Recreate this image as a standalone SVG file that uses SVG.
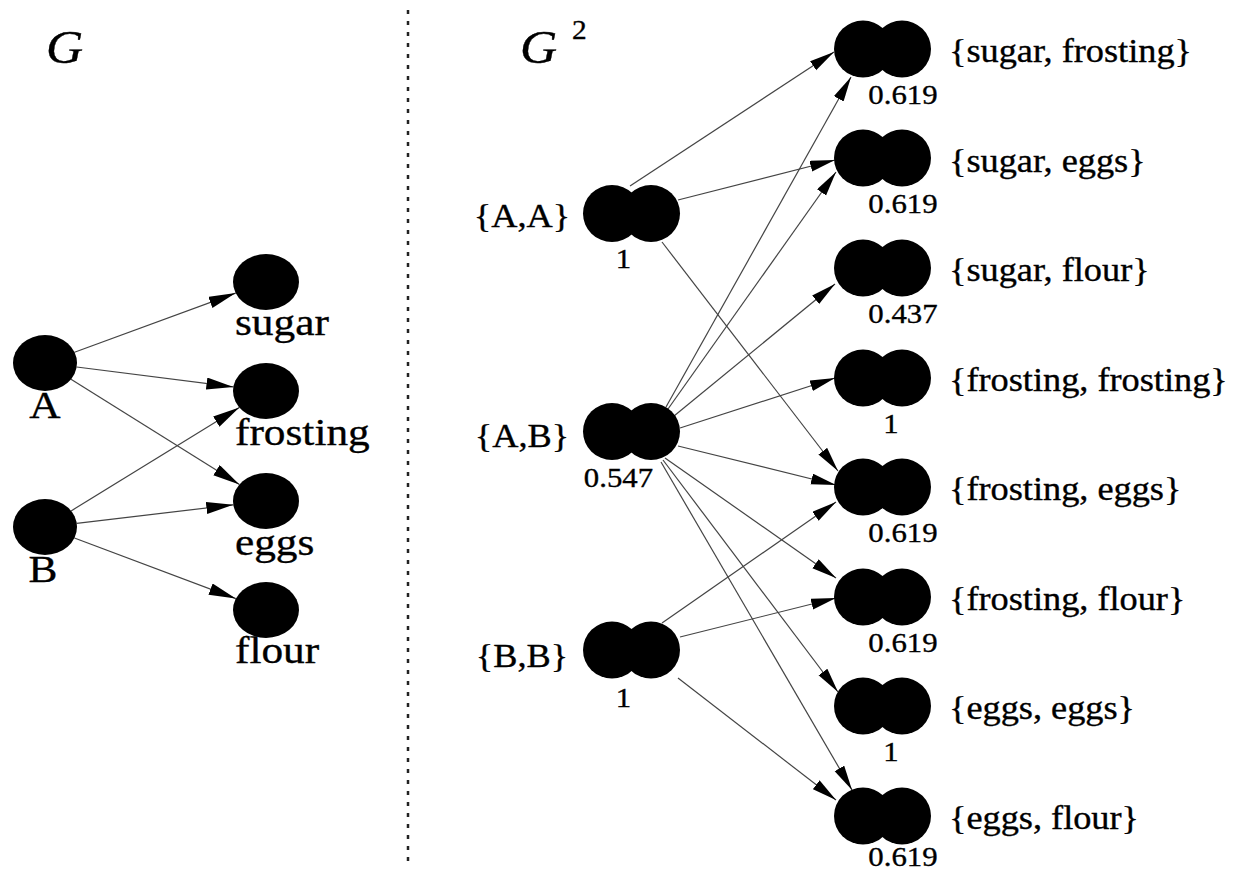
<svg xmlns="http://www.w3.org/2000/svg" width="1240" height="873" viewBox="0 0 1240 873">
  <style>
    text { font-family: "Liberation Serif", "Times New Roman", serif; fill: #000; stroke: #000; stroke-width: 0.35; }
    .title { font-size: 46px; font-style: italic; }
    .sup { font-size: 28px; }
    .lbl { font-size: 38px; }
    .pair { font-size: 33px; }
    .num { font-size: 28px; }
    .node { fill: #000; }
    .edge { stroke: #444; stroke-width: 1.2; fill: none; }
    .el { marker-end: url(#arrowL); }
    .er { marker-end: url(#arrowR); }
  </style>
  <defs>
    <marker id="arrowL" markerUnits="userSpaceOnUse" markerWidth="28" markerHeight="13" refX="27" refY="6" orient="auto">
      <path d="M0,0 L27,6 L0,12 z" fill="#000"/>
    </marker>
    <marker id="arrowR" markerUnits="userSpaceOnUse" markerWidth="26" markerHeight="12" refX="25" refY="5.5" orient="auto">
      <path d="M0,0 L25,5.5 L0,11 z" fill="#000"/>
    </marker>
    <g id="twin">
      <ellipse cx="-19.5" cy="0" rx="29" ry="28.5"/>
      <ellipse cx="19.5" cy="0" rx="29" ry="28.5"/>
    </g>
  </defs>

  <rect width="1240" height="873" fill="#fff"/>

  <!-- panel titles -->
  <text class="title" transform="translate(46 63) scale(1.12 1)">G</text>
  <text class="title" transform="translate(520 63) scale(1.12 1)">G</text>
  <text class="sup" transform="translate(572 39) scale(1.05 1)">2</text>

  <!-- separator between the two graphs -->
  <line x1="408" y1="10" x2="408" y2="866" stroke="#222" stroke-width="2.5" stroke-dasharray="4 7"/>

  <!-- connectors -->
  <g id="connectors">
    <!-- G -->
    <line class="edge el" x1="74.5" y1="352.2" x2="235.7" y2="293.1"/>
    <line class="edge el" x1="76.7" y1="367" x2="233.4" y2="386.9"/>
    <line class="edge el" x1="71" y1="379.3" x2="239.4" y2="484.4"/>
    <line class="edge el" x1="71.1" y1="510.9" x2="239.3" y2="407.4"/>
    <line class="edge el" x1="76.7" y1="523.3" x2="233.3" y2="504.8"/>
    <line class="edge el" x1="74.4" y1="538" x2="235.8" y2="598.6"/>
    <!-- G^2 from {A,A} -->
    <line class="edge er" x1="630" y1="186" x2="834" y2="52"/>
    <line class="edge er" x1="678" y1="200" x2="835" y2="160"/>
    <line class="edge er" x1="662" y1="242" x2="838" y2="471"/>
    <!-- from {A,B} -->
    <line class="edge er" x1="666" y1="407" x2="851" y2="77"/>
    <line class="edge er" x1="668" y1="409" x2="836" y2="172"/>
    <line class="edge er" x1="674" y1="416" x2="835" y2="284"/>
    <line class="edge er" x1="680" y1="428" x2="835" y2="378"/>
    <line class="edge er" x1="678" y1="446" x2="836" y2="485"/>
    <line class="edge er" x1="665" y1="458" x2="836" y2="578"/>
    <line class="edge er" x1="663" y1="460" x2="838" y2="692"/>
    <line class="edge er" x1="661" y1="462" x2="852" y2="790"/>
    <!-- from {B,B} -->
    <line class="edge er" x1="662" y1="623" x2="836" y2="502"/>
    <line class="edge er" x1="680" y1="637" x2="836" y2="598"/>
    <line class="edge er" x1="678" y1="678" x2="836" y2="800"/>
  </g>

  <!-- G nodes -->
  <g id="nA"><ellipse class="node" cx="45" cy="363" rx="32" ry="28"/><text class="lbl" text-anchor="middle" transform="translate(45 418) scale(1.14 1)">A</text></g>
  <g id="nB"><ellipse class="node" cx="45" cy="527" rx="32" ry="28"/><text class="lbl" text-anchor="middle" transform="translate(43 582) scale(1.14 1)">B</text></g>
  <g id="nSugar"><ellipse class="node" cx="266" cy="282" rx="33" ry="28"/><text class="lbl" transform="translate(235 335) scale(1.14 1)">sugar</text></g>
  <g id="nFrosting"><ellipse class="node" cx="266" cy="391" rx="33" ry="28"/><text class="lbl" transform="translate(235 445) scale(1.14 1)">frosting</text></g>
  <g id="nEggs"><ellipse class="node" cx="266" cy="501" rx="33" ry="28"/><text class="lbl" transform="translate(235 555) scale(1.14 1)">eggs</text></g>
  <g id="nFlour"><ellipse class="node" cx="266" cy="610" rx="33" ry="28"/><text class="lbl" transform="translate(235 663) scale(1.14 1)">flour</text></g>

  <!-- G^2 source pairs -->
  <g id="pAA"><use href="#twin" class="node" x="631.5" y="213.5"/>
    <text class="pair" text-anchor="middle" transform="translate(522 227) scale(1.1 1)">{A,A}</text>
    <text class="num" text-anchor="middle" transform="translate(623.5 268) scale(1.1 1)">1</text></g>
  <g id="pAB"><use href="#twin" class="node" x="631.5" y="431.5"/>
    <text class="pair" text-anchor="middle" transform="translate(522 447) scale(1.1 1)">{A,B}</text>
    <text class="num" text-anchor="middle" transform="translate(618.5 487) scale(1.1 1)">0.547</text></g>
  <g id="pBB"><use href="#twin" class="node" x="631.5" y="650"/>
    <text class="pair" text-anchor="middle" transform="translate(522 667) scale(1.1 1)">{B,B}</text>
    <text class="num" text-anchor="middle" transform="translate(623.5 707) scale(1.1 1)">1</text></g>

  <!-- G^2 target pairs -->
  <g id="pSF"><use href="#twin" class="node" x="882.5" y="49"/>
    <text class="pair" transform="translate(949 62) scale(1.1 1)">{sugar, frosting}</text>
    <text class="num" text-anchor="middle" transform="translate(903 104) scale(1.1 1)">0.619</text></g>
  <g id="pSE"><use href="#twin" class="node" x="882.5" y="158"/>
    <text class="pair" transform="translate(949 172) scale(1.1 1)">{sugar, eggs}</text>
    <text class="num" text-anchor="middle" transform="translate(903 213) scale(1.1 1)">0.619</text></g>
  <g id="pSFl"><use href="#twin" class="node" x="882.5" y="268"/>
    <text class="pair" transform="translate(949 281) scale(1.1 1)">{sugar, flour}</text>
    <text class="num" text-anchor="middle" transform="translate(903 323) scale(1.1 1)">0.437</text></g>
  <g id="pFF"><use href="#twin" class="node" x="882.5" y="378"/>
    <text class="pair" transform="translate(949 391) scale(1.1 1)">{frosting, frosting}</text>
    <text class="num" text-anchor="middle" transform="translate(891 433) scale(1.1 1)">1</text></g>
  <g id="pFE"><use href="#twin" class="node" x="882.5" y="487"/>
    <text class="pair" transform="translate(949 500) scale(1.1 1)">{frosting, eggs}</text>
    <text class="num" text-anchor="middle" transform="translate(903 542) scale(1.1 1)">0.619</text></g>
  <g id="pFFl"><use href="#twin" class="node" x="882.5" y="597"/>
    <text class="pair" transform="translate(949 610) scale(1.1 1)">{frosting, flour}</text>
    <text class="num" text-anchor="middle" transform="translate(903 652) scale(1.1 1)">0.619</text></g>
  <g id="pEE"><use href="#twin" class="node" x="882.5" y="706"/>
    <text class="pair" transform="translate(949 719) scale(1.1 1)">{eggs, eggs}</text>
    <text class="num" text-anchor="middle" transform="translate(891 761) scale(1.1 1)">1</text></g>
  <g id="pEFl"><use href="#twin" class="node" x="882.5" y="816"/>
    <text class="pair" transform="translate(949 829) scale(1.1 1)">{eggs, flour}</text>
    <text class="num" text-anchor="middle" transform="translate(903 866) scale(1.1 1)">0.619</text></g>
</svg>
